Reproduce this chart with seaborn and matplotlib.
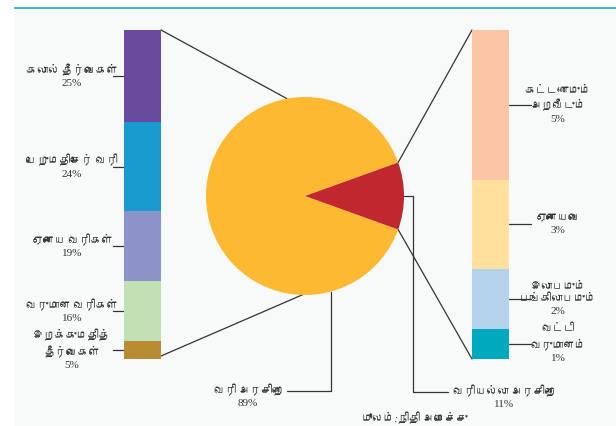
import numpy as np
import pandas as pd
import matplotlib
matplotlib.use("Agg")
import matplotlib.pyplot as plt
from matplotlib import font_manager, ft2font
from matplotlib.patches import Rectangle
import seaborn as sns

# ---- data -------------------------------------------------------------
pie_labels = ["வரி அரசிறை", "வரியல்லா அரசிறை"]
pie_values = [89, 11]

tax_labels = ["கலால் தீர்வைகள்", "பெறுமதிசேர் வரி", "ஏனைய வரிகள்",
              "வருமான வரிகள்", "இறக்குமதித்\nதீர்வைகள்"]
tax_values = [25, 24, 19, 16, 5]

nontax_labels = ["கட்டணமும்\nஅறவீடும்", "ஏனையவை", "இலாபமும்\nபங்கிலாபமும்",
                 "வட்டி\nவருமானம்"]
nontax_values = [5, 3, 2, 1]

source_prefix = "மூலம்:"
source_text = "நிதி அமைச்சு"

# ---- style ------------------------------------------------------------
pie_colors = ["#FDB931", "#C1272F"]
tax_colors = ["#6A4A9C", "#1A9BCF", "#8C93C8", "#C2E0B4", "#B98C33"]
nontax_colors = ["#FCC5A6", "#FFE09C", "#B2D3EA", "#00A9BD"]
text_color = "#333333"
line_color = "#333333"

sns.set_theme(style="white")


def tamil_family():
    for f in font_manager.fontManager.ttflist:
        try:
            if 0x0B95 in ft2font.FT2Font(f.fname).get_charmap():
                return f.name
        except Exception:
            continue
    return None


fam = tamil_family()
# serif digits first, Tamil glyphs from the first font that has them
families = ["Liberation Serif"] + ([fam] if fam else []) + ["DejaVu Sans"]
plt.rcParams["font.family"] = families

W, H = 616, 426
fig = plt.figure(figsize=(W / 100, H / 100), dpi=100)
fig.patch.set_facecolor("white")


def px_axes(x0, y0, x1, y1):
    return fig.add_axes([x0 / W, 1 - y1 / H, (x1 - x0) / W, (y1 - y0) / H])


# canvas in pixel coordinates for panel, connectors and labels
ax0 = px_axes(0, 0, W, H)
ax0.set_xlim(0, W)
ax0.set_ylim(H, 0)
ax0.axis("off")
ax0.add_patch(Rectangle((14, 7), W - 14, H - 7, facecolor="#F8FAFA",
                        edgecolor="none", zorder=0))
ax0.add_patch(Rectangle((14, 7), W - 14, 2.4, facecolor="#40B8CA",
                        edgecolor="none", zorder=1))

# ---- pie --------------------------------------------------------------
cx, cy, r = 305, 196, 99
ax_pie = px_axes(cx - r, cy - r, cx + r, cy + r)
half = pie_values[1] / sum(pie_values) * 180
ax_pie.pie(pie_values, colors=pie_colors, startangle=half, counterclock=True,
           radius=1, wedgeprops=dict(linewidth=0))
ax_pie.set_xlim(-1, 1)
ax_pie.set_ylim(-1, 1)
ax_pie.set_aspect("equal")
ax_pie.axis("off")
ax_pie.patch.set_alpha(0)


def on_circle(deg):
    a = np.deg2rad(deg)
    return cx + r * np.cos(a), cy - r * np.sin(a)


# ---- stacked bars -----------------------------------------------------
bar_top, bar_bot = 30, 359


def stacked_bar(x0, x1, values, colors, name):
    ax = px_axes(x0, bar_top, x1, bar_bot)
    total = sum(values)
    # cumulative heights measured from the bottom; first item sits on top
    cum = np.cumsum(values[::-1])[::-1]
    df = pd.DataFrame({"bar": [name] * len(values), "cum": cum,
                       "seg": [str(i) for i in range(len(values))]})
    sns.barplot(data=df, x="bar", y="cum", hue="seg", dodge=False,
                palette=colors, saturation=1, width=1.0, linewidth=0,
                legend=False, ax=ax, hue_order=df["seg"].tolist())
    ax.set_xlim(-0.5, 0.5)
    ax.set_ylim(0, total)
    ax.axis("off")
    ax.patch.set_alpha(0)
    # pixel y of each segment centre
    above = np.concatenate([[0], np.cumsum(values)[:-1]])
    mids = bar_top + (above + np.array(values) / 2) / total * (bar_bot - bar_top)
    return mids


lx0, lx1 = 124, 161
rx0, rx1 = 472, 509
left_mids = stacked_bar(lx0, lx1, tax_values, tax_colors, "tax")
right_mids = stacked_bar(rx0, rx1, nontax_values, nontax_colors, "nontax")

fs = 8.0
ls = 1.45
for lab, v, y in zip(tax_labels, tax_values, left_mids):
    ax0.plot([113, lx0], [y, y], color=line_color, lw=0.9)
    ax0.text(72, y, f"{lab}\n{v}%", ha="center", va="center",
             multialignment="center", fontsize=fs, color=text_color,
             linespacing=ls)

for lab, v, y in zip(nontax_labels, nontax_values, right_mids):
    ax0.plot([rx1, 531], [y, y], color=line_color, lw=0.9)
    ax0.text(558, y, f"{lab}\n{v}%", ha="center", va="center",
             multialignment="center", fontsize=fs, color=text_color,
             linespacing=ls)

# connectors between pie and bars
tx, ty = on_circle(100.5)
ax0.plot([lx1, tx], [bar_top, ty], color=line_color, lw=0.9)
bx, by = on_circle(268.3)
ax0.plot([lx1, bx], [bar_bot - 3, by], color=line_color, lw=0.9)
ux, uy = on_circle(half)
ax0.plot([rx0, ux], [bar_top, uy], color=line_color, lw=0.9)
dx, dy = on_circle(-half)
ax0.plot([rx0, dx], [bar_bot, dy], color=line_color, lw=0.9)

# pie callouts
px = 331
py = cy + np.sqrt(r ** 2 - (px - cx) ** 2)
ax0.plot([px, px, 287], [py, 391, 391], color=line_color, lw=0.9)
ax0.text(283, 384, f"{pie_labels[0]}\n{pie_values[0]}%", ha="right",
         va="top", multialignment="center", fontsize=fs, color=text_color,
         linespacing=ls)
ax0.plot([cx + r, 413, 413, 448], [cy, cy, 392, 392], color=line_color, lw=0.9)
ax0.text(453, 385, f"{pie_labels[1]}\n{pie_values[1]}%", ha="left",
         va="top", multialignment="center", fontsize=fs, color=text_color,
         linespacing=ls)

# source note
ax0.text(362, 418.5, source_prefix, ha="left", va="center", fontsize=fs,
         color=text_color, style="italic")
ax0.text(398, 418.5, source_text, ha="left", va="center", fontsize=fs,
         color=text_color)

fig.savefig("out.png", dpi=100, facecolor="white")
